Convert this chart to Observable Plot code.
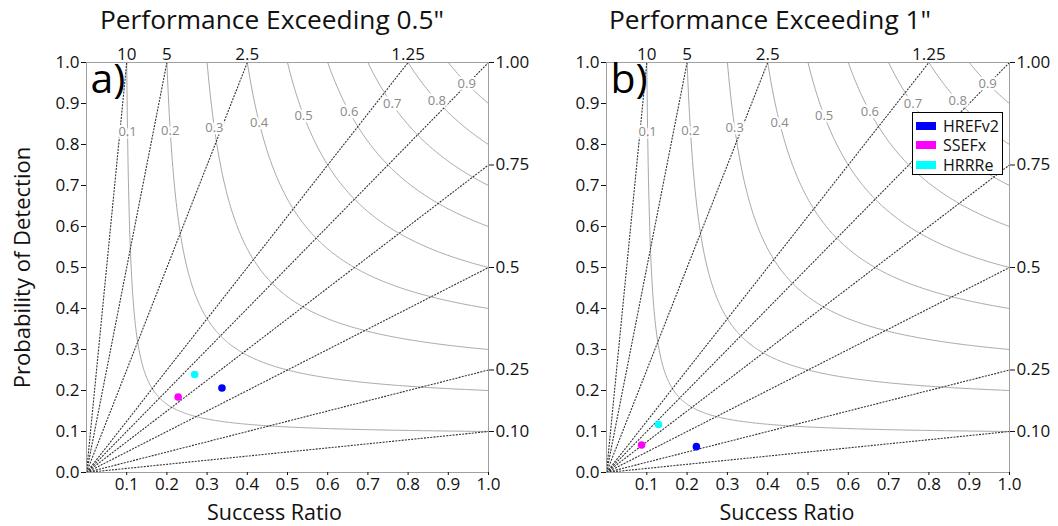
<!DOCTYPE html>
<html><head><meta charset="utf-8">
<script src="https://cdn.jsdelivr.net/npm/d3@7"></script>
<script src="https://cdn.jsdelivr.net/npm/@observablehq/plot@0.6"></script>
<style>
body{margin:0;background:#fff;font-family:"Open Sans",sans-serif;color:#111;}
#root{position:relative;width:1058px;height:526px;overflow:hidden;background:#fff;}
.title{position:absolute;top:1px;font-size:26.3px;white-space:nowrap;transform:translateX(-50%);}
.panel{position:absolute;top:40px;}
.legend{position:absolute;left:912px;top:112px;width:91px;height:63px;border:1px solid #000;background:#fff;font-size:16px;box-sizing:border-box;padding:3px 0 0 3px;}
.legend .row{display:flex;align-items:center;height:19.5px;}
.legend .sw{width:20px;height:8px;margin-right:7px;}
</style></head>
<body><div id="root"></div>
<script>
// ---- data ----
const titles = ["Performance Exceeding 0.5\"", "Performance Exceeding 1\""];
const panelTags = ["a)", "b)"];
const models = ["HREFv2", "SSEFx", "HRRRe"];
const modelColors = ["#0000ff", "#ff00ff", "#00ffff"];
const srA = [0.337, 0.228, 0.269];
const podA = [0.206, 0.184, 0.239];
const srB = [0.223, 0.087, 0.129];
const podB = [0.063, 0.067, 0.117];
const biasValues = [10, 5, 2.5, 1.25, 1, 0.75, 0.5, 0.25, 0.1];
const biasTopLabels = ["10", "5", "2.5", "1.25"];
const biasRightLabels = ["1.00", "0.75", "0.5", "0.25", "0.10"];
const csiValues = [0.1, 0.2, 0.3, 0.4, 0.5, 0.6, 0.7, 0.8, 0.9];
const csiLabels = ["0.1", "0.2", "0.3", "0.4", "0.5", "0.6", "0.7", "0.8", "0.9"];
const csiLabelPod = [0.832, 0.834, 0.841, 0.854, 0.871, 0.88, 0.898, 0.907, 0.949];
const yTicks = [0, 0.1, 0.2, 0.3, 0.4, 0.5, 0.6, 0.7, 0.8, 0.9, 1.0];
const xTicks = [0.1, 0.2, 0.3, 0.4, 0.5, 0.6, 0.7, 0.8, 0.9, 1.0];
const axisTitles = {x: "Success Ratio", y: "Probability of Detection"};

// ---- derived ----
const topTicks = biasValues.filter(b => b > 1).map(b => 1 / b);
const rightTicks = biasValues.filter(b => b <= 1);
const biasLines = biasValues.map(b => ({b, x2: b >= 1 ? 1 / b : 1, y2: b >= 1 ? 1 : b}));
const csiCurves = [];
for (const c of csiValues) {
  const sr0 = c / (1 + c) + 1e-4;
  const n = 300;
  for (let i = 0; i <= n; i++) {
    const sr = sr0 + (1 - sr0) * Math.pow(i / n, 2);
    const pod = 1 / (1 / c + 1 - 1 / sr);
    csiCurves.push({c, sr, pod});
  }
}
const csiLabelData = csiValues.map((c, i) => {
  const pod = csiLabelPod[i];
  return {sr: 1 / (1 / c + 1 - 1 / pod), pod, t: csiLabels[i]};
});

const root = document.getElementById("root");
const font = '"Open Sans", sans-serif';

function panel(k, sr, pod, opts) {
  const pts = models.map((m, i) => ({m, sr: sr[i], pod: pod[i], col: modelColors[i]}));
  const marks = [
    Plot.line(csiCurves, {x: "sr", y: "pod", z: "c", stroke: "#a8a8a8", strokeWidth: 1, clip: true}),
    Plot.link(biasLines, {x1: () => 0, y1: () => 0, x2: "x2", y2: "y2", stroke: "#333", strokeWidth: 1.1, strokeDasharray: "2,1.2"}),
    Plot.text(csiLabelData, {x: "sr", y: "pod", text: "t", fill: "#8a8a8a", stroke: "white", strokeWidth: 5, fontSize: 13}),
    Plot.frame({stroke: "#a0a0a0"}),
    Plot.axisY(yTicks, {anchor: "left", tickFormat: d3.format(".1f"), tickSize: 5, tickPadding: 2, fontSize: 17, label: null}),
    Plot.axisX(xTicks, {anchor: "bottom", tickFormat: d3.format(".1f"), tickSize: 3, tickPadding: 2, fontSize: 17, label: null}),
    Plot.axisX(topTicks, {anchor: "top", tickFormat: d => biasTopLabels[topTicks.indexOf(d)], tickSize: 0, tickPadding: 3, fontSize: 17, label: null}),
    Plot.axisY(rightTicks, {anchor: "right", tickFormat: d => biasRightLabels[rightTicks.indexOf(d)], tickSize: 5, tickPadding: 2, fontSize: 17, label: null}),
    Plot.dot(pts, {x: "sr", y: "pod", fill: "col", r: 3.8}),
    Plot.text([panelTags[k]], {frameAnchor: "top-left", dx: 4, dy: 1, fontSize: 41, lineAnchor: "top", textAnchor: "start", fill: "#000"}),
    Plot.text([axisTitles.x], {frameAnchor: "bottom", dx: opts.xLabelDx, dy: 41, fontSize: 21.5, lineAnchor: "middle", textAnchor: "middle", fill: "#111"})
  ];
  if (k === 0) marks.push(Plot.text([axisTitles.y], {frameAnchor: "left", dx: -64, rotate: -90, fontSize: 22, textAnchor: "middle", lineAnchor: "middle", fill: "#111"}));
  const svg = Plot.plot({
    width: 529, height: 486,
    marginLeft: opts.ml, marginRight: opts.mr, marginTop: 22, marginBottom: 54,
    style: {fontFamily: font, color: "#111", background: "white", overflow: "visible"},
    x: {domain: [0, 1]}, y: {domain: [0, 1]},
    color: {type: "identity"},
    marks
  });
  const wrap = document.createElement("div");
  wrap.className = "panel";
  wrap.style.left = opts.left + "px";
  wrap.appendChild(svg);
  root.appendChild(wrap);
  const t = document.createElement("div");
  t.className = "title";
  t.style.left = opts.titleX + "px";
  t.textContent = titles[k];
  root.appendChild(t);
}
panel(0, srA, podA, {left: 0, ml: 86, mr: 41, xLabelDx: -13, titleX: 272});
panel(1, srB, podB, {left: 529, ml: 77, mr: 49, xLabelDx: -21, titleX: 770});

const lg = document.createElement("div");
lg.className = "legend";
models.forEach((m, i) => {
  const r = document.createElement("div"); r.className = "row";
  const s = document.createElement("div"); s.className = "sw"; s.style.background = modelColors[i];
  const l = document.createElement("span"); l.textContent = m;
  r.appendChild(s); r.appendChild(l); lg.appendChild(r);
});
root.appendChild(lg);
</script></body></html>
